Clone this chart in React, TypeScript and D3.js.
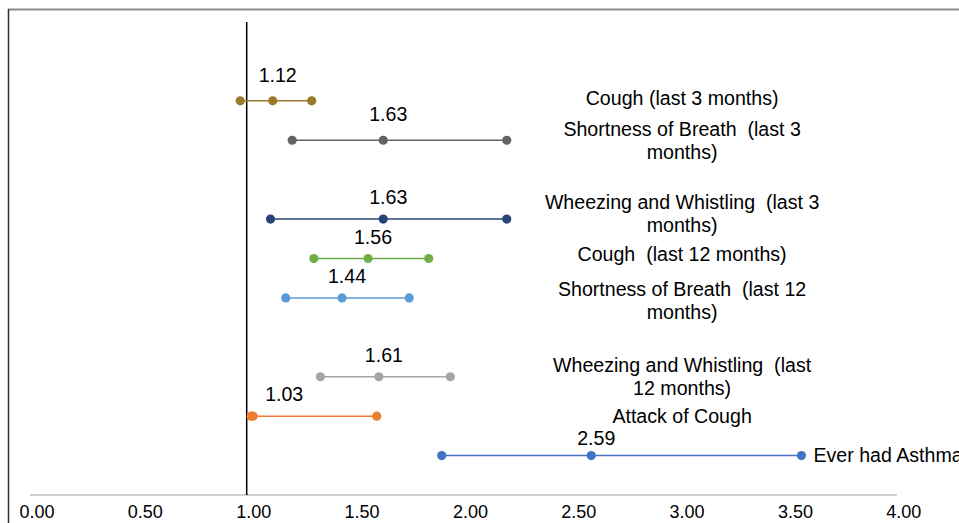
import React from "react";
import * as d3 from "d3";

const categories = [
  "Cough (last 3 months)",
  "Shortness of Breath  (last 3 months)",
  "Wheezing and Whistling  (last 3 months)",
  "Cough  (last 12 months)",
  "Shortness of Breath  (last 12 months)",
  "Wheezing and Whistling  (last 12 months)",
  "Attack of Cough",
  "Ever had Asthma",
];
const labelLines = [
  ["Cough (last 3 months)"],
  ["Shortness of Breath  (last 3", "months)"],
  ["Wheezing and Whistling  (last 3", "months)"],
  ["Cough  (last 12 months)"],
  ["Shortness of Breath  (last 12", "months)"],
  ["Wheezing and Whistling  (last", "12 months)"],
  ["Attack of Cough"],
  ["Ever had Asthma"],
];
const rowPos = [10, 9, 7, 6, 5, 3, 2, 1];
const lower = [0.97, 1.21, 1.11, 1.31, 1.18, 1.34, 1.02, 1.9];
const mid = [1.12, 1.63, 1.63, 1.56, 1.44, 1.61, 1.03, 2.59];
const upper = [1.3, 2.2, 2.2, 1.84, 1.75, 1.94, 1.6, 3.56];
const colors = ["#9c7a2b", "#636363", "#264478", "#70ad47", "#5b9bd5", "#a5a5a5", "#ed7d31", "#4472c4"];
const xTicks = [0, 0.5, 1, 1.5, 2, 2.5, 3, 3.5, 4];

const W = 959;
const H = 523;
const FONT = "'Liberation Sans', Arial, sans-serif";
const FS = 19.6;

export default function App() {
  const x = d3.scaleLinear().domain([0, 4]).range([30, 896.8]);
  const y = d3.scaleLinear().domain([0, 12]).range([495, 22]);
  const fmt = d3.format(".2f");
  const labelDx = (i: number) => (i === 6 ? 31 : 5);
  const labelDy = (i: number) => (i === 7 ? -11 : i === 0 || i === 1 ? -19 : -15);
  const catDy = [-3, 0, -5, -4, 3, 0, 0, 0];

  return (
    <svg
      width={W}
      height={H}
      style={{ position: "absolute", left: 0, top: 0, background: "#fff" }}
      fontFamily={FONT}
    >
      <rect x={0} y={0} width={W} height={H} fill="#fff" />
      {/* chart frame */}
      <line x1={8} x2={W} y1={9.5} y2={9.5} stroke="#8c8c8c" strokeWidth={2} />
      <line x1={8.5} x2={8.5} y1={9} y2={H} stroke="#333" strokeWidth={1.5} />

      {/* x axis */}
      <line x1={x(0)} x2={x(4)} y1={y(0)} y2={y(0)} stroke="#bfbfbf" strokeWidth={1.5} />
      {xTicks.map((t) => (
        <text key={t} x={x(t) + 7} y={518} textAnchor="middle" fontSize={18} fill="#000">
          {fmt(t)}
        </text>
      ))}

      {/* reference line at 1 */}
      <line x1={x(1)} x2={x(1)} y1={y(12)} y2={y(0)} stroke="#000" strokeWidth={1.5} />

      {categories.map((c, i) => {
        const yy = y(rowPos[i]);
        const col = colors[i];
        const lines = labelLines[i];
        const lh = 23;
        return (
          <g key={c}>
            <line x1={x(lower[i])} x2={x(upper[i])} y1={yy} y2={yy} stroke={col} strokeWidth={1.5} />
            {[lower[i], mid[i], upper[i]].map((v, k) => (
              <circle key={k} cx={x(v)} cy={yy} r={4.6} fill={col} />
            ))}
            <text x={x(mid[i]) + labelDx(i)} y={yy + labelDy(i)} textAnchor="middle" fontSize={FS} fill="#000">
              {fmt(mid[i])}
            </text>
            {i === 7 ? (
              <text x={x(upper[i]) + 12} y={yy} dy="0.35em" fontSize={FS} fill="#000" style={{ whiteSpace: "pre" }}>
                {lines[0]}
              </text>
            ) : (
              lines.map((ln, k) => (
                <text
                  key={k}
                  x={x(3) + 2}
                  y={yy + catDy[i] + (k - (lines.length - 1) / 2) * lh}
                  dy="0.35em"
                  textAnchor="middle"
                  fontSize={FS}
                  fill="#000"
                  style={{ whiteSpace: "pre" }}
                >
                  {ln}
                </text>
              ))
            )}
          </g>
        );
      })}
    </svg>
  );
}
